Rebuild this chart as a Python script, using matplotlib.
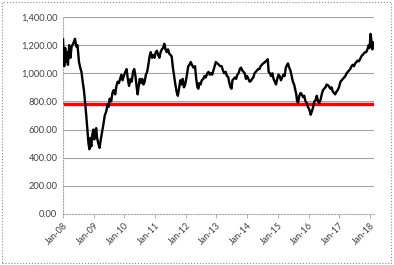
import numpy as np
import matplotlib.pyplot as plt
from matplotlib.patches import Rectangle

# ----------------------------
# Daten (Zeit in Dezimaljahren, Indexwert)
# ----------------------------
years = [
    2008.00, 2008.02, 2008.04, 2008.07, 2008.10, 2008.13, 2008.16, 2008.20, 2008.24, 2008.28,
    2008.33, 2008.39, 2008.43, 2008.47, 2008.52, 2008.56, 2008.60, 2008.64, 2008.68, 2008.72,
    2008.76, 2008.80, 2008.83, 2008.86, 2008.89, 2008.92, 2008.95, 2008.99, 2009.02, 2009.05,
    2009.08, 2009.11, 2009.15, 2009.19, 2009.23, 2009.27, 2009.31, 2009.36, 2009.41, 2009.45,
    2009.48, 2009.52, 2009.57, 2009.61, 2009.65, 2009.70, 2009.74, 2009.78, 2009.82, 2009.86,
    2009.90, 2009.94, 2009.98, 2010.03, 2010.07, 2010.11, 2010.15, 2010.20, 2010.24, 2010.28,
    2010.32, 2010.36, 2010.40, 2010.43, 2010.46, 2010.50, 2010.54, 2010.58, 2010.62, 2010.66,
    2010.70, 2010.74, 2010.78, 2010.82, 2010.86, 2010.90, 2010.94, 2010.98, 2011.02, 2011.06,
    2011.10, 2011.14, 2011.18, 2011.22, 2011.26, 2011.30, 2011.34, 2011.38, 2011.42, 2011.46,
    2011.50, 2011.54, 2011.58, 2011.62, 2011.66, 2011.70, 2011.74, 2011.78, 2011.82, 2011.86,
    2011.90, 2011.94, 2011.98, 2012.03, 2012.08, 2012.12, 2012.16, 2012.20, 2012.25, 2012.30,
    2012.34, 2012.38, 2012.41, 2012.44, 2012.48, 2012.52, 2012.57, 2012.61, 2012.65, 2012.70,
    2012.74, 2012.78, 2012.82, 2012.86, 2012.90, 2012.94, 2012.98, 2013.03, 2013.08, 2013.12,
    2013.17, 2013.21, 2013.25, 2013.30, 2013.34, 2013.38, 2013.42, 2013.46, 2013.49, 2013.52,
    2013.56, 2013.60, 2013.64, 2013.68, 2013.72, 2013.76, 2013.80, 2013.84, 2013.88, 2013.92,
    2013.96, 2014.00, 2014.04, 2014.08, 2014.12, 2014.16, 2014.20, 2014.24, 2014.28, 2014.32,
    2014.36, 2014.40, 2014.44, 2014.48, 2014.52, 2014.56, 2014.60, 2014.64, 2014.67, 2014.70,
    2014.74, 2014.78, 2014.82, 2014.86, 2014.90, 2014.94, 2014.98, 2015.02, 2015.06, 2015.10,
    2015.14, 2015.18, 2015.22, 2015.26, 2015.30, 2015.33, 2015.37, 2015.41, 2015.45, 2015.49,
    2015.53, 2015.57, 2015.60, 2015.63, 2015.66, 2015.70, 2015.74, 2015.78, 2015.82, 2015.86,
    2015.90, 2015.94, 2015.98, 2016.03, 2016.07, 2016.11, 2016.15, 2016.19, 2016.23, 2016.27,
    2016.31, 2016.35, 2016.39, 2016.43, 2016.47, 2016.51, 2016.55, 2016.59, 2016.63, 2016.67,
    2016.71, 2016.75, 2016.79, 2016.83, 2016.87, 2016.91, 2016.95, 2016.99, 2017.04, 2017.08,
    2017.12, 2017.16, 2017.20, 2017.24, 2017.28, 2017.32, 2017.36, 2017.40, 2017.44, 2017.48,
    2017.52, 2017.56, 2017.60, 2017.64, 2017.68, 2017.72, 2017.76, 2017.80, 2017.84, 2017.88,
    2017.92, 2017.96, 2017.99, 2018.02, 2018.05, 2018.08, 2018.11, 2018.12,
]
values = [
    1240, 1120, 1050, 1180, 1080, 1150, 1060, 1200, 1110, 1190,
    1210, 1245, 1190, 1200, 1080, 1040, 1010, 940, 880, 790,
    690, 580, 500, 460, 540, 480, 560, 600, 530, 590,
    610, 540, 500, 470, 530, 580, 630, 700, 730, 780,
    760, 820, 800, 860, 880, 850, 910, 940, 930, 960,
    990, 950, 980, 1010, 1030, 960, 910, 960, 940, 1010,
    1030, 980, 900, 850, 900, 960, 930, 960, 920, 940,
    990, 1010, 1060, 1120, 1150, 1110, 1130, 1110, 1150, 1160,
    1130, 1110, 1150, 1170, 1180, 1210, 1170, 1150, 1170, 1140,
    1130, 1120, 1040, 980, 920, 870, 840, 890, 950, 920,
    960, 900, 920, 980, 1050, 1060, 1080, 1060, 1040, 1050,
    960, 900, 890, 930, 920, 950, 960, 980, 970, 1000,
    1010, 990, 1000, 990, 1020, 1050, 1080, 1070, 1060, 1050,
    1050, 1020, 1000, 1010, 980, 975, 930, 900, 890, 950,
    960, 970, 960, 990, 1000, 1030, 1040, 1020, 1010, 1000,
    960, 980, 960, 940, 945, 960, 970, 1000, 1010, 1020,
    1030, 1030, 1050, 1060, 1070, 1075, 1085, 1090, 1100, 1010,
    1000, 980, 1000, 960, 940, 920, 960, 990, 980, 950,
    970, 990, 980, 1040, 1060, 1070, 1040, 1020, 980, 940,
    920, 880, 850, 800, 790, 840, 860, 850, 830, 840,
    800, 790, 760, 740, 705, 730, 760, 800, 810, 840,
    800, 790, 810, 850, 880, 890, 900, 920, 915, 905,
    890, 900, 870, 860, 850, 870, 880, 900, 940, 950,
    960, 970, 980, 1000, 1010, 1020, 1030, 1050, 1060, 1050,
    1070, 1080, 1090, 1085, 1100, 1120, 1130, 1140, 1150, 1150,
    1170, 1200, 1180, 1280, 1230, 1170, 1220, 1200,
]
threshold = 778
tick_years = list(range(2008, 2019))
tick_labels = ["Jan-%02d" % (y % 100) for y in tick_years]
y_ticks = [0, 200, 400, 600, 800, 1000, 1200, 1400]

# ----------------------------
# Grafik
# ----------------------------
plt.rcParams['font.family'] = ['Lato', 'DejaVu Sans']
fig = plt.figure(figsize=(3.94, 2.65), dpi=100)
ax = fig.add_axes([0.160, 0.1925, 0.789, 0.7435])

for yt in y_ticks[1:]:
    ax.axhline(yt, color='#a6a6a6', linewidth=0.8, zorder=1)

ax.axhline(threshold, color='#ff0000', linewidth=2.4, zorder=2)
ax.plot(years, values, color='black', linewidth=1.7, zorder=3)

ax.set_xlim(2008, 2018.13)
ax.set_ylim(0, 1400)
ax.set_yticks(y_ticks)
ax.set_yticklabels(["{:,.2f}".format(v) for v in y_ticks])
ax.set_xticks(tick_years)
ax.set_xticklabels(tick_labels, rotation=45, ha='right', rotation_mode='anchor')
ax.tick_params(axis='y', length=0, labelsize=6.7, labelcolor='#404040', pad=4)
ax.tick_params(axis='x', length=3, width=0.6, color='#a6a6a6',
               labelsize=6.5, labelcolor='#404040', pad=2)

for side in ['top', 'right']:
    ax.spines[side].set_visible(False)
for side in ['left', 'bottom']:
    ax.spines[side].set_color('#a6a6a6')
    ax.spines[side].set_linestyle(':')
    ax.spines[side].set_linewidth(0.8)

# gepunkteter Rahmen um die Grafik
fig.patches.append(Rectangle((0.006, 0.008), 0.987, 0.984, transform=fig.transFigure,
                             fill=False, edgecolor='#8c8c8c', linestyle=':', linewidth=0.8))

fig.savefig("out.png", dpi=100)
